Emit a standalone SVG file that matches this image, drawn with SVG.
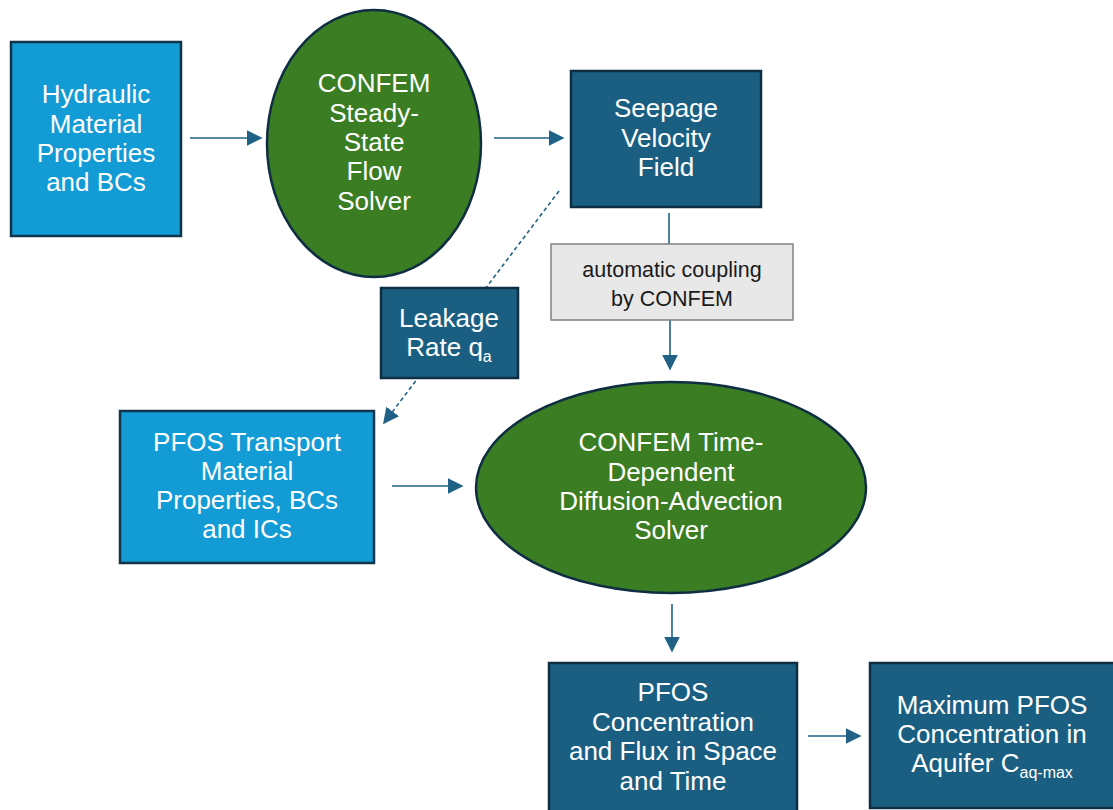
<svg xmlns="http://www.w3.org/2000/svg" width="1113" height="810" viewBox="0 0 1113 810">
<style>
.t{font-family:"Liberation Sans",Arial,sans-serif;font-size:26px;fill:#ffffff;text-anchor:middle}
.s{font-size:16px}
.c{font-family:"Liberation Sans",Arial,sans-serif;font-size:21.5px;fill:#1a1a1a;text-anchor:middle}
.lb{fill:#139BD5;stroke:#12344A;stroke-width:2.5}
.db{fill:#1A5F82;stroke:#0F2E42;stroke-width:2.5}
.gr{fill:#3B7D23;stroke:#0F2E42;stroke-width:2.5}
.ln{stroke:#1F6285;stroke-width:1.6;fill:none}
.dash{stroke:#1F6285;stroke-width:1.6;fill:none;stroke-dasharray:4 3}
</style>
<defs>
<marker id="ahb" viewBox="0 0 10 10" refX="9" refY="5" markerWidth="16" markerHeight="16" markerUnits="userSpaceOnUse" orient="auto">
<path d="M0,0 L10,5 L0,10 z" fill="#1F6285"/>
</marker>
</defs>
<rect width="1113" height="810" fill="#ffffff"/>
<g id="connectors">
<line class="ln" x1="190" y1="138" x2="261" y2="138" marker-end="url(#ahb)"/>
<line class="ln" x1="494" y1="138" x2="563" y2="138" marker-end="url(#ahb)"/>
<line class="ln" x1="669" y1="213" x2="669" y2="245"/>
<line class="ln" x1="670" y1="320" x2="670" y2="369" marker-end="url(#ahb)"/>
<line class="dash" x1="559" y1="191" x2="384" y2="423" marker-end="url(#ahb)"/>
<line class="ln" x1="392" y1="486" x2="462" y2="486" marker-end="url(#ahb)"/>
<line class="ln" x1="672" y1="604" x2="672" y2="651" marker-end="url(#ahb)"/>
<line class="ln" x1="808" y1="736" x2="860" y2="736" marker-end="url(#ahb)"/>
</g>
<g id="hydraulic">
<rect class="lb" x="11" y="42" width="170" height="194"/>
<text class="t" x="96" y="103">Hydraulic</text>
<text class="t" x="96" y="133">Material</text>
<text class="t" x="96" y="162">Properties</text>
<text class="t" x="96" y="191">and BCs</text>
</g>
<g id="steady">
<ellipse class="gr" cx="374" cy="143.5" rx="107" ry="133.5"/>
<text class="t" x="374" y="92">CONFEM</text>
<text class="t" x="374" y="122">Steady-</text>
<text class="t" x="374" y="151">State</text>
<text class="t" x="374" y="180">Flow</text>
<text class="t" x="374" y="210">Solver</text>
</g>
<g id="seepage">
<rect class="db" x="571" y="71" width="190" height="136"/>
<text class="t" x="666" y="117">Seepage</text>
<text class="t" x="666" y="147">Velocity</text>
<text class="t" x="666" y="176">Field</text>
</g>
<g id="coupling">
<rect x="551" y="244" width="242" height="76" fill="#E8E8E8" stroke="#808080" stroke-width="1.5"/>
<text class="c" x="672" y="277">automatic coupling</text>
<text class="c" x="672" y="306">by CONFEM</text>
</g>
<g id="leakage">
<rect class="db" x="381" y="288" width="137" height="90"/>
<text class="t" x="449" y="327">Leakage</text>
<text class="t" x="449" y="356">Rate q<tspan class="s" dy="6">a</tspan></text>
</g>
<g id="transport">
<rect class="lb" x="120" y="411" width="254" height="152"/>
<text class="t" x="247" y="451">PFOS Transport</text>
<text class="t" x="247" y="480">Material</text>
<text class="t" x="247" y="509">Properties, BCs</text>
<text class="t" x="247" y="538">and ICs</text>
</g>
<g id="diffusion">
<ellipse class="gr" cx="671" cy="487.5" rx="195" ry="105.5"/>
<text class="t" x="671" y="451">CONFEM Time-</text>
<text class="t" x="671" y="481">Dependent</text>
<text class="t" x="671" y="510">Diffusion-Advection</text>
<text class="t" x="671" y="539">Solver</text>
</g>
<g id="concentration">
<rect class="db" x="549" y="663" width="248" height="160"/>
<text class="t" x="673" y="701">PFOS</text>
<text class="t" x="673" y="731">Concentration</text>
<text class="t" x="673" y="760">and Flux in Space</text>
<text class="t" x="673" y="790">and Time</text>
</g>
<g id="maximum">
<rect class="db" x="870" y="663" width="250" height="145"/>
<text class="t" x="992" y="714">Maximum PFOS</text>
<text class="t" x="992" y="743">Concentration in</text>
<text class="t" x="992" y="772">Aquifer C<tspan class="s" dy="6">aq-max</tspan></text>
</g>
</svg>
